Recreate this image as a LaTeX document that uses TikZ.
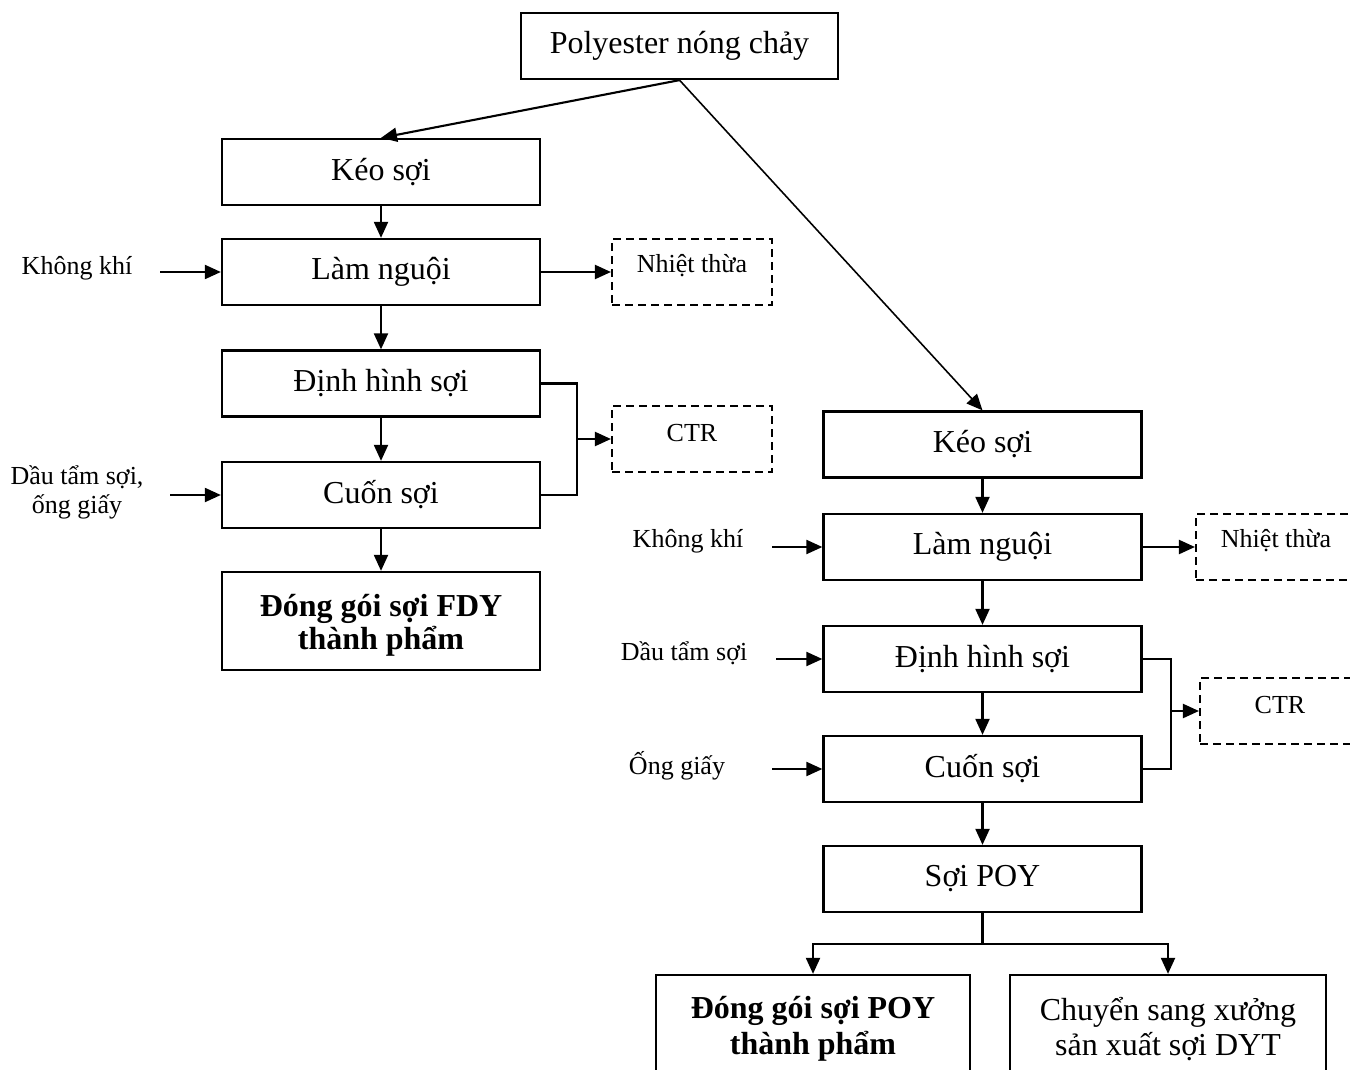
\documentclass[tikz,border=0pt]{standalone}
\usepackage{fontspec}
\setmainfont{Liberation Serif}
\usetikzlibrary{arrows.meta}

\tikzset{
  big/.style={font=\fontsize{18.2}{19.4}\selectfont},
  small/.style={font=\fontsize{14.8}{16.5}\selectfont},
  stepbox/.style={draw, line width=1.3pt, inner sep=0pt, minimum width=6.36cm,
    minimum height=1.32cm, align=center, big},
  outbox/.style={draw, line width=1.2pt, dash pattern=on 0.16cm off 0.1cm,
    inner sep=0pt, minimum width=3.2cm, minimum height=1.32cm},
  outtext/.style={label={[lbl, yshift=0.12cm]center:#1}},
  lbl/.style={align=center, inner sep=0pt, small},
  flow/.style={line width=1.2pt, -{Triangle[length=0.32cm, width=0.28cm]}},
  joint/.style={line width=1.2pt}
}

\begin{document}
\begin{tikzpicture}
\useasboundingbox (0,0) rectangle (27,-21.4);
\clip (0,0) rectangle (27,-21.4);

% source
\node[stepbox, minimum width=6.34cm] (poly) at (13.59,-0.92) {Polyester nóng chảy};

% FDY line
\node[stepbox] (lkeo) at (7.62,-3.44) {Kéo sợi};
\node[stepbox] (llam) at (7.62,-5.44) {Làm nguội};
\node[stepbox] (ldinh) at (7.62,-7.67) {Định hình sợi};
\node[stepbox] (lcuon) at (7.62,-9.90) {Cuốn sợi};
\node[stepbox, minimum height=1.96cm,
  label={[align=center, inner sep=0pt, yshift=-0.08cm, font=\fontsize{18.2}{18.6}\selectfont\bfseries]center:Đóng gói sợi FDY\\thành phẩm}]
  (lpack) at (7.62,-12.42) {};
\node[outbox, outtext=Nhiệt thừa] (lheat) at (13.84,-5.44) {};
\node[outbox, outtext=CTR] (lctr) at (13.84,-8.78) {};

\node[lbl] (lair) at (1.54,-5.36) {Không khí};
\node[lbl] (loil) at (1.54,-9.84) {Dầu tẩm sợi,\\ống giấy};
\coordinate (lairs) at (3.2,-5.44);
\coordinate (loils) at (3.4,-9.90);
\coordinate (lbr) at (11.54,-8.78);

\draw[flow] (poly.south) -- (lkeo.north);
\draw[flow] (lkeo) -- (llam);
\draw[flow] (llam) -- (ldinh);
\draw[flow] (ldinh) -- (lcuon);
\draw[flow] (lcuon) -- (lpack);
\draw[flow] (lairs) -- (llam.west);
\draw[flow] (loils) -- (lcuon.west);
\draw[flow] (llam.east) -- (lheat.west);
\draw[joint] (ldinh.east) -| (lbr) |- (lcuon.east);
\draw[flow] (lbr) -- (lctr.west);

% POY line
\node[stepbox] (rkeo) at (19.65,-8.89) {Kéo sợi};
\node[stepbox] (rlam) at (19.65,-10.94) {Làm nguội};
\node[stepbox] (rdinh) at (19.65,-13.18) {Định hình sợi};
\node[stepbox] (rcuon) at (19.65,-15.38) {Cuốn sợi};
\node[stepbox] (rpoy) at (19.65,-17.58) {Sợi POY};
\node[outbox, outtext=Nhiệt thừa] (rheat) at (25.52,-10.94) {};
\node[outbox, outtext=CTR] (rctr) at (25.6,-14.22) {};
\node[stepbox, minimum width=6.28cm, minimum height=2.16cm, font=\fontsize{18.2}{20.2}\selectfont\bfseries] (rpack) at (16.26,-20.58) {Đóng gói sợi POY\\thành phẩm};
\node[stepbox, minimum width=6.32cm, minimum height=2.16cm, font=\fontsize{18.2}{20.2}\selectfont] (rdyt) at (23.36,-20.58) {Chuyển sang xưởng\\sản xuất sợi DYT};

\node[lbl] (rair) at (13.76,-10.82) {Không khí};
\node[lbl] (roil) at (13.68,-13.06) {Dầu tẩm sợi};
\node[lbl] (rtube) at (13.54,-15.32) {Ống giấy};
\coordinate (rairs) at (15.44,-10.94);
\coordinate (roils) at (15.52,-13.18);
\coordinate (rtubes) at (15.44,-15.38);
\coordinate (rbr) at (23.42,-14.22);
\coordinate (rsplit) at (19.65,-18.88);

\draw[line width=0.9pt, -{Triangle[length=0.32cm, width=0.28cm]}] (poly.south) -- (rkeo.north);
\draw[flow] (rkeo) -- (rlam);
\draw[flow] (rlam) -- (rdinh);
\draw[flow] (rdinh) -- (rcuon);
\draw[flow] (rcuon) -- (rpoy);
\draw[flow] (rairs) -- (rlam.west);
\draw[flow] (roils) -- (rdinh.west);
\draw[flow] (rtubes) -- (rcuon.west);
\draw[flow] (rlam.east) -- (rheat.west);
\draw[joint] (rdinh.east) -| (rbr) |- (rcuon.east);
\draw[flow] (rbr) -- (rctr.west);
\draw[joint] (rpoy.south) -- (rsplit);
\draw[flow] (rsplit) -| (rpack.north);
\draw[flow] (rsplit) -| (rdyt.north);
\end{tikzpicture}
\end{document}
